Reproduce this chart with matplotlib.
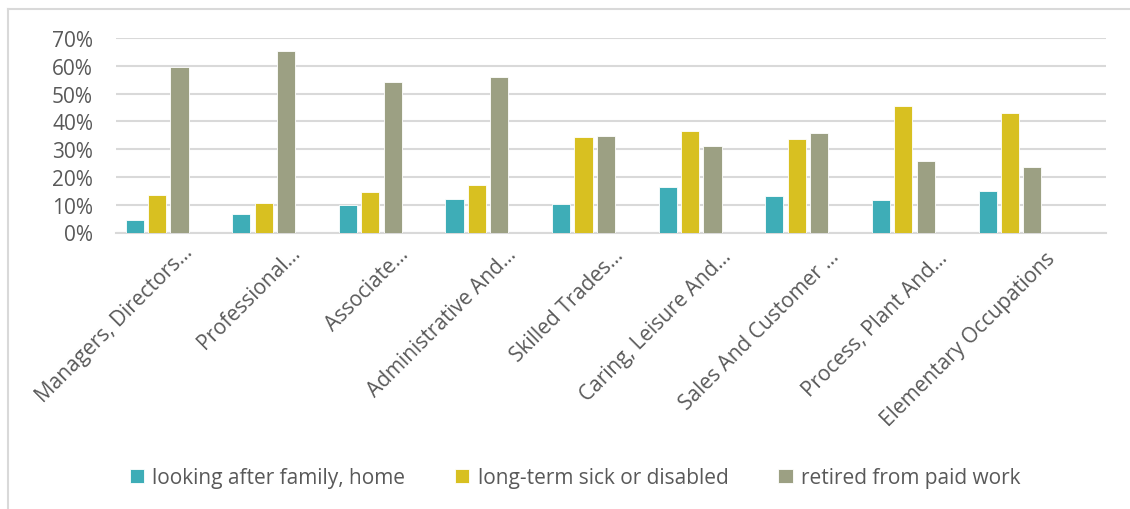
## Share of people not working, by former occupation group and reason.

import numpy as np
import matplotlib.pyplot as plt
from matplotlib.lines import Line2D
from matplotlib.ticker import PercentFormatter
from matplotlib.transforms import ScaledTranslation

plt.rcParams['font.family'] = ['Open Sans', 'DejaVu Sans']

categories = ['Managers, Directors\u2026', 'Professional\u2026', 'Associate\u2026',
              'Administrative And\u2026', 'Skilled Trades\u2026', 'Caring, Leisure And\u2026',
              'Sales And Customer \u2026', 'Process, Plant And\u2026', 'Elementary Occupations']
family_home = [0.044, 0.068, 0.100, 0.121, 0.102, 0.162, 0.133, 0.116, 0.148]
sick_disabled = [0.136, 0.107, 0.145, 0.170, 0.345, 0.364, 0.337, 0.457, 0.429]
retired = [0.597, 0.654, 0.541, 0.561, 0.347, 0.313, 0.357, 0.256, 0.236]
series_names = ['looking after family, home', 'long-term sick or disabled',
                'retired from paid work']
colors = ['#3EADB7', '#D8C021', '#9CA083']

txt = '#595959'
grid_col = '#D9D9D9'
fs = 15

fig = plt.figure(figsize=(11.3, 5.1), dpi=100)
ax = fig.add_axes([116/1130, 1-233.5/510, 990/1130, 194.5/510])

x = np.arange(len(categories))
w = 0.17
off = 0.21
for i, vals in enumerate([family_home, sick_disabled, retired]):
    ax.bar(x + (i-1)*off, vals, width=w, color=colors[i], edgecolor='white',
           linewidth=0.6, label=series_names[i], zorder=3)

ax.set_ylim(0, 0.7)
ax.set_xlim(-0.385, 8.9)
ax.set_yticks(np.arange(0, 0.71, 0.1))
ax.yaxis.set_major_formatter(PercentFormatter(1.0, decimals=0))
ax.grid(axis='y', color=grid_col, linewidth=1.5, zorder=0)
for s in ['top', 'right', 'left']:
    ax.spines[s].set_visible(False)
ax.spines['bottom'].set_color(grid_col)
ax.spines['bottom'].set_linewidth(1.5)
ax.tick_params(axis='both', length=0, colors=txt, labelsize=fs)
ax.tick_params(axis='y', pad=16.5)

ax.set_xticks(x)
ax.set_xticklabels(categories, rotation=45, ha='right', va='top',
                   rotation_mode='anchor', fontsize=fs, color=txt)
# Excel spreads the labels a touch wider than the bars
for k, lab in enumerate(ax.get_xticklabels()):
    shift = ScaledTranslation((25 + 1.2*k)/100, (-4 - 0.8*k)/100, fig.dpi_scale_trans)
    lab.set_transform(lab.get_transform() + shift)

fig.legend(loc='center', bbox_to_anchor=(575/1130, 1-479/510), ncol=3,
           frameon=False, fontsize=fs, handlelength=0.68, handleheight=0.68,
           handletextpad=0.4, columnspacing=2.4, labelcolor=txt)

# chart border
fig.add_artist(Line2D([8/1130, 1], [1-9.5/510, 1-9.5/510], color=grid_col, linewidth=1.5))
fig.add_artist(Line2D([8/1130, 8/1130], [0, 1-9.5/510], color=grid_col, linewidth=1.5))

plt.savefig('out.png', dpi=100)
